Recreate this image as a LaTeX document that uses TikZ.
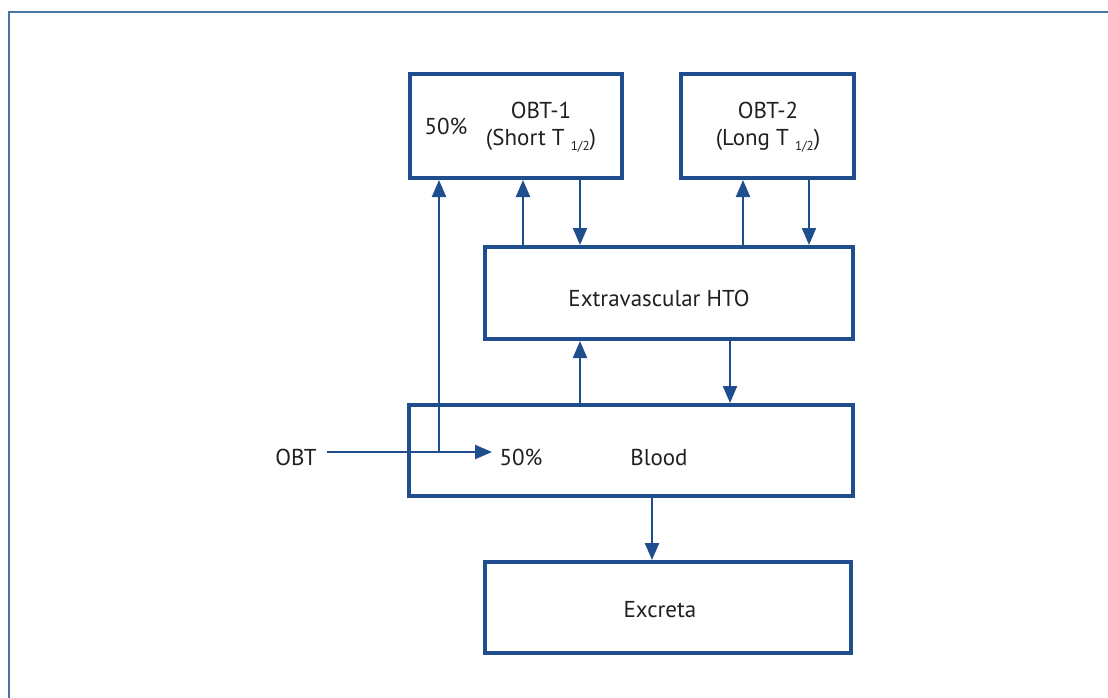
\documentclass[tikz,border=0pt]{standalone}
\usepackage{fontspec}
\setmainfont{PT Sans}
\usetikzlibrary{arrows.meta,calc}
\definecolor{boxblue}{HTML}{1F4E8F}
\definecolor{framblue}{HTML}{4A76A4}
\definecolor{txt}{HTML}{231F20}
\tikzset{
  blk/.style={draw=boxblue, line width=4pt, rectangle, inner sep=0pt, text=txt, font=\fontsize{23}{27}\selectfont},
  lbl/.style={inner sep=0pt, text=txt, font=\fontsize{23}{27}\selectfont},
  con/.style={draw=boxblue, line width=2.2pt, -{Triangle[length=17pt,width=14pt]}},
  plain/.style={draw=boxblue, line width=2.2pt}
}
\newcommand{\half}{\raisebox{-0.45ex}{\fontsize{13}{13}\selectfont 1/2}}
\begin{document}
\begin{tikzpicture}[x=1pt,y=-1pt]
\useasboundingbox (0,0) rectangle (1108,697);
\draw[framblue, line width=2.2pt] (9,760) -- (9,12) -- (1120,12);
% boxes
\node[blk, minimum width=212pt, minimum height=104pt] (obt1) at (516,126) {};
\node[blk, minimum width=173pt, minimum height=104pt] (obt2) at (767.5,126) {};
\node[blk, minimum width=368pt, minimum height=92pt] (ex) at (669,293) {};
\node[blk, minimum width=444pt, minimum height=91pt] (blood) at (631,450.5) {};
\node[blk, minimum width=366pt, minimum height=91pt] (excr) at (668,607.5) {};
% texts
\node[lbl] (ext) at (659,298) {Extravascular HTO};
\node[lbl] (exct) at (660,610) {Excreta};
\node[lbl] (p1) at (446,126) {50\%};
\node[lbl, align=center] (t1) at (541,127) {OBT-1\\(Short T \half)};
\node[lbl, align=center] (t2) at (768,127) {OBT-2\\(Long T \half)};
\node[lbl] (bl) at (659,457) {Blood};
\node[lbl] (p2) at (521,457) {50\%};
\node[lbl] (obt) at (296,457) {OBT};
% connectors
\coordinate (j) at (439,452);
\coordinate (s) at (327,452);
\coordinate (e) at (492,452);
\draw[plain] (s) -- (j);
\draw[con] (j) -- (e);
\draw[con] (j) -- (j |- obt1.south);
\draw[con] (523,0 |- ex.north) -- (523,0 |- obt1.south);
\draw[con] (580,0 |- obt1.south) -- (580,0 |- ex.north);
\draw[con] (743,0 |- ex.north) -- (743,0 |- obt2.south);
\draw[con] (809,0 |- obt2.south) -- (809,0 |- ex.north);
\draw[con] (580,0 |- blood.north) -- (580,0 |- ex.south);
\draw[con] (730,0 |- ex.south) -- (730,0 |- blood.north);
\draw[con] (652,0 |- blood.south) -- (652,0 |- excr.north);
\end{tikzpicture}
\end{document}
